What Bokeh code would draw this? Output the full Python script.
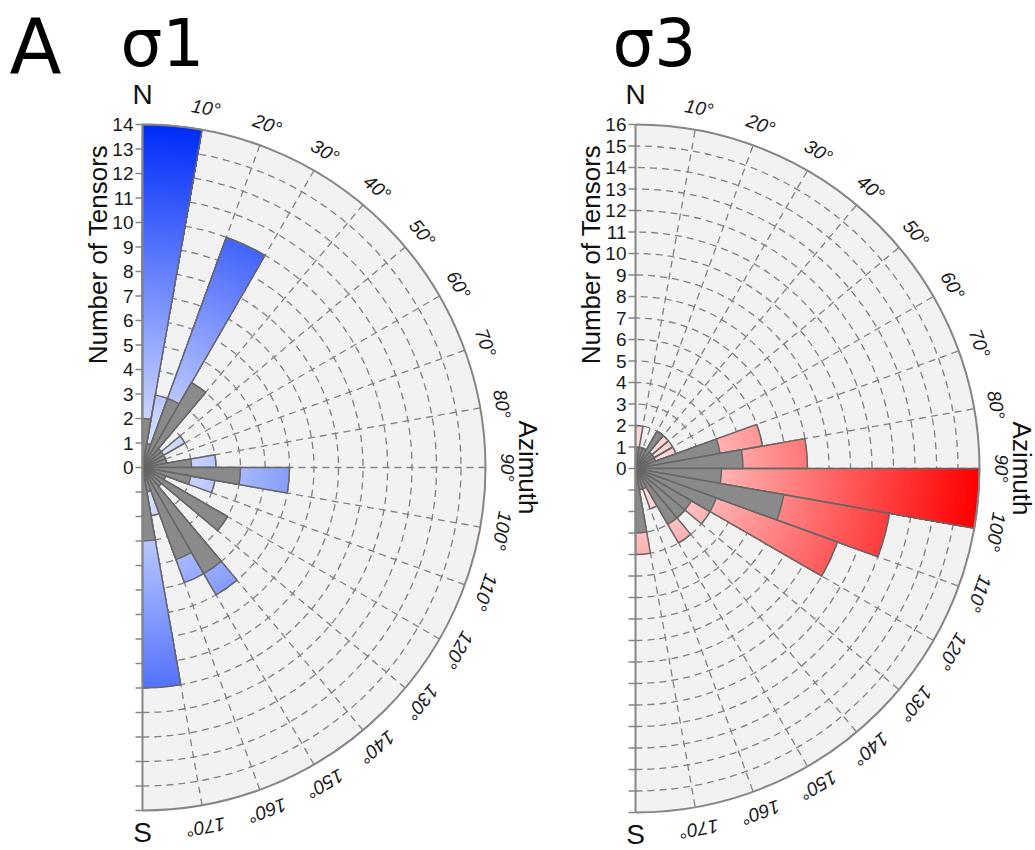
import numpy as np
from bokeh.plotting import figure
from bokeh.layouts import row
from bokeh.models import Label
from bokeh.embed import file_html
from bokeh.resources import INLINE
from bokeh.core.properties import value

# ---------------- data ----------------
bin_start = list(range(0, 180, 10))          # azimuth bins (deg), 10 deg wide
# sigma 1 : total (blue) and overlay (grey) counts per bin
s1_total = [14, 3, 10, 4, 1, 2, 1, 1, 3, 6, 3, 1, 4, 1, 6, 5, 2, 9]
s1_grey  = [2, 1, 3, 4, 1, 1, 1, 1, 2, 4, 2, 1, 4, 1, 5, 4, 1, 3]
# sigma 3 : total (red) and overlay (grey) counts per bin
s3_total = [2, 1, 1, 2, 2, 2, 2, 6, 8, 16, 12, 10, 4, 3, 4, 2, 1, 4]
s3_grey  = [1, 1, 1, 2, 1, 1, 1, 4, 5, 4, 7, 4, 3, 3, 3, 1, 1, 3]
s1_max = 14
s3_max = 16
az_ticks = list(range(10, 180, 10))

SANS = "Liberation Sans"
GRID = "#828282"
EDGE = "#666666"
GREY = "#8a8a8a"


def lerp(c0, c1, t):
    return "#%02x%02x%02x" % tuple(int(round(a + (b - a) * t)) for a, b in zip(c0, c1))


def panel(total, grey, rmax, c_lo, c_hi, width, height, cx, cy):
    sc = (cy - 124) / rmax  # px per unit
    p = figure(width=width, height=height,
               x_range=(-cx / sc, (width - cx) / sc),
               y_range=(-(height - cy) / sc, cy / sc),
               output_backend="svg", toolbar_location=None,
               x_axis_type=None, y_axis_type=None, min_border=0)
    p.outline_line_color = None
    p.grid.visible = False
    p.background_fill_color = "white"

    hp = np.pi / 2
    # background half disc
    p.wedge(x=0, y=0, radius=rmax, start_angle=-hp, end_angle=hp,
            fill_color="#f2f2f2", line_color=None)
    # dashed rings
    rings = list(range(1, rmax))
    p.arc(x=[0] * len(rings), y=[0] * len(rings), radius=rings,
          start_angle=-hp, end_angle=hp, line_color=GRID, line_width=1.3,
          line_dash="7 5")
    # dashed radials
    az = np.radians(az_ticks)
    p.segment(x0=[0] * len(az), y0=[0] * len(az),
              x1=list(rmax * np.sin(az)), y1=list(rmax * np.cos(az)),
              line_color=GRID, line_width=1.3, line_dash="7 5")

    # gradient bars: nested wedges drawn from largest radius to smallest
    step = 0.08
    rs, sa, ea, cols = [], [], [], []
    for b, v in zip(bin_start, total):
        a0 = hp - np.radians(b + 10)
        a1 = hp - np.radians(b)
        r = v
        while r > 0:
            rs.append(r); sa.append(a0); ea.append(a1)
            cols.append(lerp(c_lo, c_hi, min(r / rmax, 1.0)))
            r -= step
    order = np.argsort(rs)[::-1]
    p.wedge(x=0, y=0, radius=[rs[i] for i in order],
            start_angle=[sa[i] for i in order], end_angle=[ea[i] for i in order],
            fill_color=[cols[i] for i in order], line_color=[cols[i] for i in order],
            line_width=0.6)
    starts = [hp - np.radians(b + 10) for b in bin_start]
    ends = [hp - np.radians(b) for b in bin_start]
    # bar outlines
    p.wedge(x=0, y=0, radius=total, start_angle=starts, end_angle=ends,
            fill_color=None, line_color=EDGE, line_width=1.5)
    # grey overlay bars
    p.wedge(x=0, y=0, radius=grey, start_angle=starts, end_angle=ends,
            fill_color=GREY, line_color=EDGE, line_width=1.5)

    # outer arc and N-S axis
    p.arc(x=0, y=0, radius=rmax, start_angle=-hp, end_angle=hp,
          line_color="#858585", line_width=2)
    p.segment(x0=0, y0=-rmax, x1=0, y1=rmax, line_color="#858585", line_width=2)

    # radial ticks on the axis
    tk = list(range(-rmax, rmax + 1))
    p.segment(x0=[-7 / sc] * len(tk), y0=tk, x1=[0] * len(tk), y1=tk,
              line_color="#858585", line_width=1.3)
    lab = list(range(0, rmax + 1))
    p.text(x=[-9 / sc] * len(lab), y=lab, text=[str(v) for v in lab],
           text_align="right", text_baseline="middle",
           text_font=value(SANS), text_font_size=value("19px"), text_color="#1a1a1a")

    # azimuth labels
    rr = rmax + 22 / sc
    p.text(x=list(rr * np.sin(az)), y=list(rr * np.cos(az)),
           text=["%d°" % a for a in az_ticks], angle=list(-az),
           text_align="center", text_baseline="middle",
           text_font=value(SANS), text_font_style="italic",
           text_font_size=value("19px"), text_color="#1a1a1a")

    p.add_layout(Label(x=0, y=rmax + 30 / sc, text="N", text_align="center",
                       text_baseline="middle", text_font=SANS,
                       text_font_size="28px", text_color="#111111"))
    p.add_layout(Label(x=0, y=-rmax - 22 / sc, text="S", text_align="center",
                       text_baseline="middle", text_font=SANS,
                       text_font_size="28px", text_color="#111111"))
    p.add_layout(Label(x=-45 / sc, y=(cy - 254) / sc, text="Number of Tensors",
                       angle=np.pi / 2, text_align="center", text_baseline="middle",
                       text_font=SANS, text_font_size="26px", text_color="#111111"))
    p.add_layout(Label(x=rmax + 42 / sc, y=0, text="Azimuth", angle=-np.pi / 2,
                       text_align="center", text_baseline="middle",
                       text_font=SANS, text_font_size="26px", text_color="#111111"))
    return p


p1 = panel(s1_total, s1_grey, s1_max, (236, 241, 255), (0, 45, 250),
           560, 850, 142, 467)
p2 = panel(s3_total, s3_grey, s3_max, (255, 238, 238), (255, 0, 0),
           475, 850, 75, 468)

TOP = 850 - 1
p1.add_layout(Label(x=9, y=TOP, x_units="screen", y_units="screen", text="A",
                    text_font="DejaVu Sans", text_font_size="76px",
                    text_color="black", text_baseline="top"))
p1.add_layout(Label(x=120, y=TOP - 3, x_units="screen", y_units="screen", text="σ1",
                    text_font="DejaVu Sans", text_font_size="66px",
                    text_color="black", text_baseline="top"))
p2.add_layout(Label(x=52, y=TOP - 3, x_units="screen", y_units="screen", text="σ3",
                    text_font="DejaVu Sans", text_font_size="66px",
                    text_color="black", text_baseline="top"))

layout = row(p1, p2, spacing=0)
open("out.html", "w").write(file_html(layout, INLINE))
